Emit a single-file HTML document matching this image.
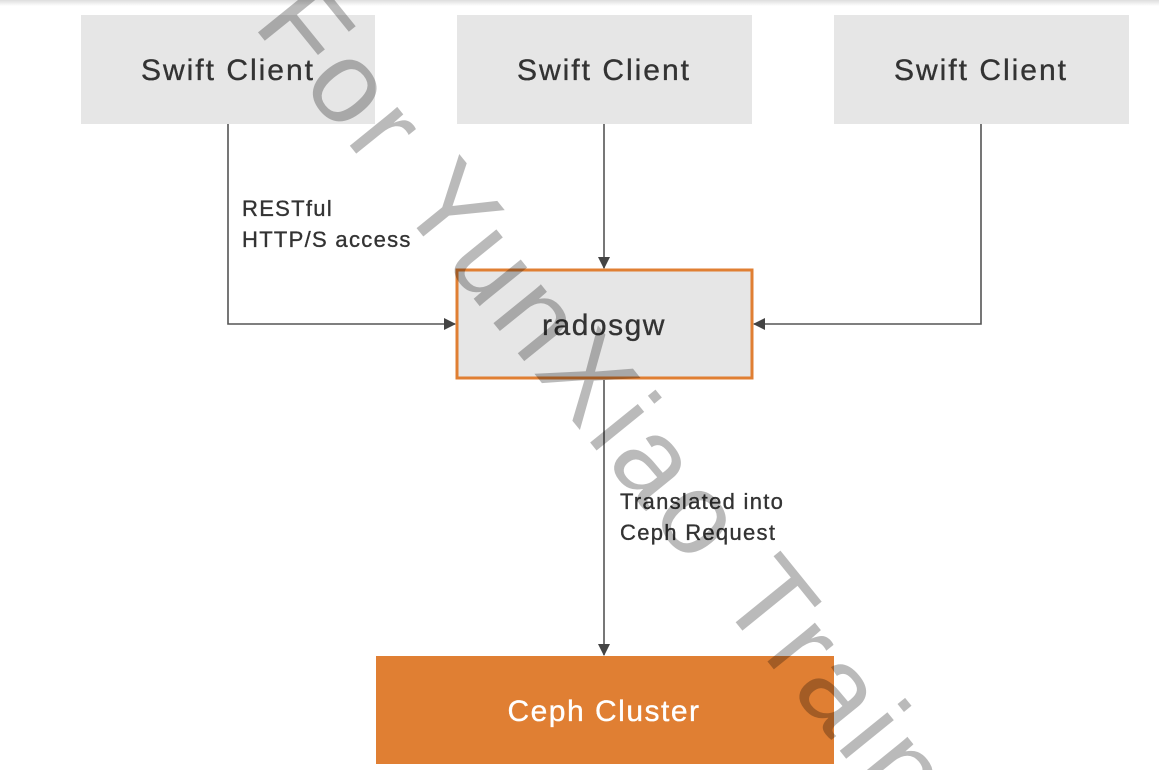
<!DOCTYPE html>
<html><head><style>
html,body{margin:0;padding:0;background:#fff;overflow:hidden;}
body{width:1159px;height:770px;overflow:hidden;position:relative;}
svg{display:block;overflow:hidden;}
</style></head><body>
<svg width="1159" height="770" xmlns="http://www.w3.org/2000/svg" style="position:absolute;left:0;top:0">
<defs>
<linearGradient id="sh" x1="0" y1="0" x2="0" y2="1"><stop offset="0" stop-color="#ddd"/><stop offset="1" stop-color="#fff"/></linearGradient>
<marker id="ar" markerWidth="12" markerHeight="12" refX="11" refY="6" orient="auto" markerUnits="userSpaceOnUse"><path d="M0,0 L12,6 L0,12 z" fill="#444"/></marker>
<clipPath id="c"><rect x="0" y="0" width="1159" height="770"/></clipPath>
</defs>
<g clip-path="url(#c)">
<rect x="0" y="0" width="1159" height="6" fill="url(#sh)"/>
<g font-family="Liberation Sans, sans-serif" fill="#333" stroke="#333" stroke-width="0.35">
<rect x="81" y="15" width="294" height="109" fill="#e6e6e6" stroke="none"/>
<rect x="457" y="15" width="295" height="109" fill="#e6e6e6" stroke="none"/>
<rect x="834" y="15" width="295" height="109" fill="#e6e6e6" stroke="none"/>
<text x="228" y="80" font-size="30" letter-spacing="2" text-anchor="middle">Swift Client</text>
<text x="604" y="80" font-size="30" letter-spacing="2" text-anchor="middle">Swift Client</text>
<text x="981" y="80" font-size="30" letter-spacing="2" text-anchor="middle">Swift Client</text>
<rect x="457" y="270" width="295" height="108" fill="#e6e6e6" stroke="#e07f33" stroke-width="3"/>
<text x="604" y="335" font-size="30" letter-spacing="1.5" text-anchor="middle">radosgw</text>
<rect x="376" y="656" width="458" height="108" fill="#e07f33" stroke="none"/>
<text x="604" y="721" font-size="30" letter-spacing="1.5" text-anchor="middle" fill="#fff" stroke="#fff">Ceph Cluster</text>
<g stroke="#555" stroke-width="1.6" fill="none">
<path d="M604 124 V268" marker-end="url(#ar)"/>
<path d="M228 124 V324 H455" marker-end="url(#ar)"/>
<path d="M981 124 V324 H754" marker-end="url(#ar)"/>
<path d="M604 380 V655" marker-end="url(#ar)"/>
</g>
<text x="242" y="216" font-size="22" letter-spacing="1.3">RESTful</text>
<text x="242" y="247" font-size="22" letter-spacing="1.3">HTTP/S access</text>
<text x="620" y="509" font-size="22" letter-spacing="1.3">Translated into</text>
<text x="620" y="540" font-size="22" letter-spacing="1.3">Ceph Request</text>
</g>
<text x="0" y="0" font-family="Liberation Sans, sans-serif" font-size="116" letter-spacing="6" fill="rgba(0,0,0,0.27)" transform="translate(252,25) rotate(51)">For YunXiao Training</text>
</g>
</svg>
</body></html>
